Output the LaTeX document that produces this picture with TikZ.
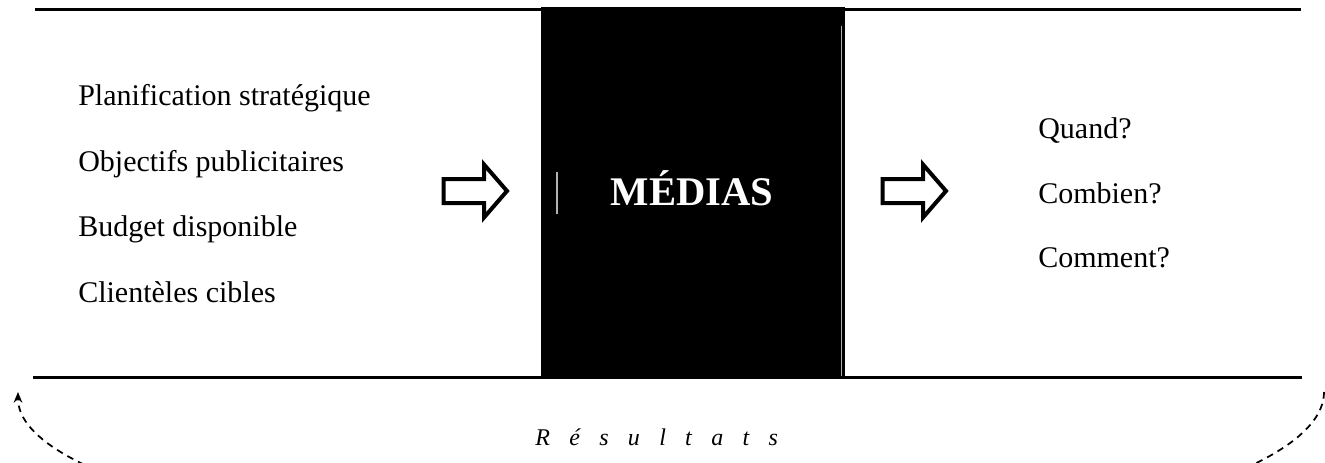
\documentclass[tikz,border=0pt]{standalone}
\usepackage{fontspec}
\setmainfont{Liberation Serif}
\usetikzlibrary{arrows.meta}
\newcommand{\rgap}{\hspace{14.5pt}}
\begin{document}
\begin{tikzpicture}[x=0.75pt,y=0.75pt,
    item/.style={anchor=base west,inner sep=0pt,font=\fontsize{22.5}{27}\selectfont},
    rule/.style={line width=2.3pt},
    hollow/.style={line width=3pt,line join=miter},
    feedback/.style={dash pattern=on 5pt off 4pt,line width=1.3pt,-{Stealth[length=8pt,width=6.5pt]}}]
  \useasboundingbox (0,0) rectangle (1325,462);
  \clip (0,0) rectangle (1325,462);
  % the media block
  \node[fill=black,minimum width=228pt,minimum height=277.5pt,inner sep=0pt] (medias) at (693,270) {};
  \node[anchor=base,inner sep=0pt,text=white,font=\fontsize{30.5}{36}\selectfont\bfseries] (mediastxt) at (692,257) {MÉDIAS};
  \draw[gray!60,line width=0.8pt] (557,248) -- (557,290);
  \draw[gray!60,line width=0.8pt] (841.5,86) -- (841.5,436);
  % frame rules
  \draw[rule] (35,452.5) -- (1301,452.5);
  \draw[rule] (33,84.5) -- (1302,84.5);
  % inputs
  \node[item] (plan) at (78,357) {Planification stratégique};
  \node[item] (obj) at (78,291) {Objectifs publicitaires};
  \node[item] (budget) at (78,226) {Budget disponible};
  \node[item] (cibles) at (78,160) {Clientèles cibles};
  % outputs
  \node[item] (quand) at (1038,324) {Quand?};
  \node[item] (combien) at (1038,259) {Combien?};
  \node[item] (comment) at (1038,195) {Comment?};
  % hollow arrows
  \foreach \x in {443.5,882.5}
    \draw[hollow] (\x,259) -- (\x+40.5,259) -- (\x+40.5,244.5) -- (\x+63.5,271)
      -- (\x+40.5,297.5) -- (\x+40.5,283) -- (\x,283) -- cycle;
  % feedback loop
  \coordinate (fbR) at (1324,70);
  \coordinate (fbL) at (18,70);
  \draw[feedback] (fbR) arc[start angle=0,end angle=-180,x radius=653,y radius=160];
  \node[anchor=base west,inner sep=0pt,font=\fontsize{18}{22}\selectfont\itshape] (result) at (535,17)
    {R\rgap é\rgap s\rgap u\rgap l\rgap t\rgap a\rgap t\rgap s};
\end{tikzpicture}
\end{document}
